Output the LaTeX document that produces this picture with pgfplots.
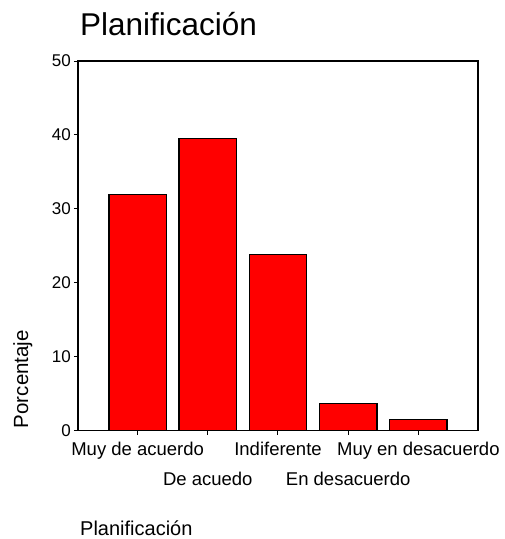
\documentclass[border=0pt]{standalone}
\usepackage{fontspec}
\setmainfont{Liberation Sans}
\usepackage{pgfplots}
\pgfplotsset{compat=1.18}

\begin{document}
\begin{tikzpicture}
\begin{axis}[
    scale only axis, width=400pt, height=369.5pt,
    ybar, bar width=57.5pt,
    xmin=0.15, xmax=5.85, ymin=0, ymax=50,
    ytick={0,10,20,30,40,50},
    xtick={1,3,5},
    xticklabels={Muy de acuerdo, Indiferente, Muy en desacuerdo},
    extra x ticks={2,4},
    extra x tick labels={De acuedo, En desacuerdo},
    extra x tick style={xticklabel style={yshift=-30pt}},
    tick align=outside, major tick length=4pt,
    xtick pos=bottom, ytick pos=left,
    tick style={black, line width=1pt},
    axis line style={line width=1.3pt},
    /pgf/number format/assume math mode=true,
    xticklabel style={font=\fontsize{18.5}{22}\selectfont, anchor=base, inner sep=0pt, yshift=-20.5pt},
    yticklabel style={font=\fontsize{17}{20}\selectfont, inner sep=0pt, xshift=-3pt},
    title={Planificación},
    title style={font=\fontsize{31.5}{36}\selectfont, anchor=base west, inner sep=0pt,
                 at={(axis description cs:0.005,1.054)}},
    ylabel={Porcentaje},
    ylabel style={font=\fontsize{20.5}{24}\selectfont, anchor=center, inner sep=0pt,
                  at={(axis description cs:-0.138,0.139)}},
    xlabel={Planificación},
    xlabel style={font=\fontsize{20}{24}\selectfont, anchor=base west, inner sep=0pt,
                  at={(axis description cs:0.005,-0.285)}},
]
\addplot[fill=red, draw=black, line width=1.3pt] coordinates {(1,31.9) (2,39.5) (3,23.8) (4,3.7) (5,1.5)};
\end{axis}
\path[use as bounding box] (-78pt,-108.5pt) rectangle (427pt,430.5pt);
\end{tikzpicture}
\end{document}
